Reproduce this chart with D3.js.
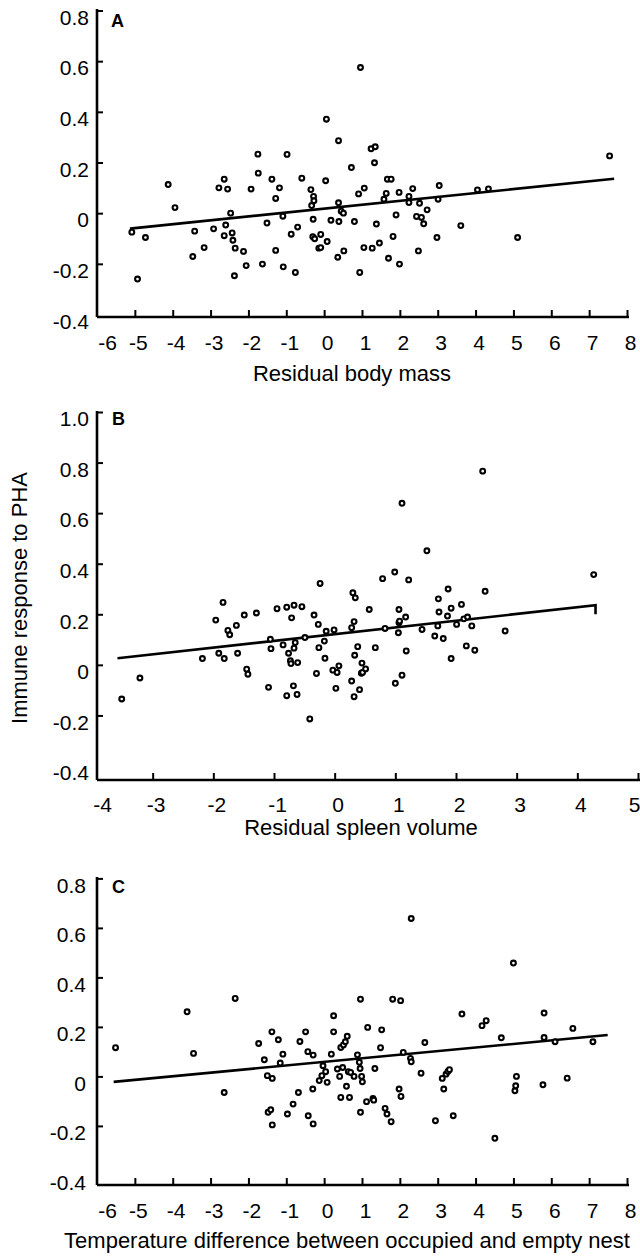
<!DOCTYPE html>
<html>
<head>
<meta charset="utf-8">
<script src="https://cdn.jsdelivr.net/npm/d3@7"></script>
<style>
  html, body { margin: 0; padding: 0; background: #fff; }
  svg { display: block; }
  text { font-family: "Liberation Sans", Arial, Helvetica, sans-serif; fill: #000; }
</style>
</head>
<body>
<svg id="chart" width="640" height="1260"></svg>
<script>
// ---------------- DATA ----------------
// Panel A: residual body mass vs immune response
const aX = [-5.08,-4.93,-4.72,-4.12,-3.94,-3.47,-3.42,-3.17,-2.92,-2.78,-2.64,-2.64,-2.60,-2.55,-2.47,-2.43,-2.41,-2.35,-2.37,-2.13,
  -2.06,-1.93,-1.75,-1.74,-1.63,-1.51,-1.38,-1.28,-1.28,-1.18,-1.09,-1.08,-0.98,-0.87,-0.76,-0.70,-0.59,-0.35,-0.33,-0.28,
  -0.27,-0.29,-0.30,-0.25,-0.14,-0.09,-0.09,0.04,0.08,0.06,0.18,0.36,0.38,0.39,0.38,0.45,0.51,0.52,0.72,0.80,
  0.91,0.94,0.96,1.06,1.05,1.24,1.35,1.33,1.27,1.38,1.46,1.58,1.64,1.67,1.77,1.70,1.82,1.90,1.98,1.99,
  2.24,2.24,2.34,2.44,2.49,2.52,2.57,2.63,2.72,2.98,3.01,3.04,3.61,4.05,4.34,5.11,7.54];
const aY = [-0.075,-0.26,-0.096,0.113,0.022,-0.171,-0.071,-0.136,-0.062,0.100,0.134,-0.089,-0.047,0.095,0.000,-0.078,-0.107,-0.138,-0.247,-0.151,
  -0.207,0.095,0.233,0.158,-0.201,-0.039,0.134,0.058,-0.147,0.100,-0.012,-0.212,0.232,-0.083,-0.234,-0.055,0.138,0.093,0.030,0.066,
  0.049,-0.024,-0.093,-0.101,-0.138,-0.136,-0.084,0.128,-0.112,0.371,-0.028,-0.174,0.041,-0.033,0.286,0.008,0.000,-0.149,0.180,-0.033,
  0.076,-0.234,0.575,0.099,-0.136,0.254,0.262,0.199,-0.138,-0.043,-0.118,0.055,0.078,0.134,0.134,-0.178,-0.092,-0.007,0.082,-0.201,
  0.066,0.042,0.097,-0.013,-0.149,0.039,-0.017,-0.042,0.013,-0.096,0.055,0.109,-0.049,0.092,0.096,-0.096,0.226];
const lineA = [[-5.13,-0.061],[7.66,0.136]];

// Panel B: residual spleen volume vs immune response
const bX = [-3.51,-3.21,-2.18,-1.96,-1.91,-1.82,-1.84,-1.76,-1.73,-1.62,-1.60,-1.49,-1.45,-1.43,-1.29,-1.09,-1.06,-1.05,-0.95,-0.85,
  -0.79,-0.79,-0.76,-0.73,-0.72,-0.71,-0.67,-0.68,-0.67,-0.65,-0.61,-0.62,-0.54,-0.49,-0.41,-0.34,-0.30,-0.27,-0.26,-0.24,
  -0.17,-0.16,-0.14,-0.03,-0.01,0.02,0.04,0.07,0.28,0.28,0.30,0.32,0.32,0.33,0.34,0.38,0.41,0.44,0.45,0.46,
  0.51,0.57,0.67,0.79,0.83,0.99,1.00,1.05,1.06,1.06,1.07,1.11,1.11,1.17,1.18,1.22,1.44,1.52,1.65,1.70,
  1.71,1.72,1.79,1.86,1.87,1.92,1.92,2.01,2.09,2.13,2.19,2.17,2.26,2.31,2.44,2.48,2.81,4.27];
const bY = [-0.135,-0.052,0.025,0.177,0.046,0.025,0.247,0.136,0.119,0.156,0.046,0.197,-0.017,-0.037,0.205,-0.089,0.101,0.064,0.222,0.079,
  0.228,-0.122,0.046,0.016,0.005,0.186,0.236,-0.083,0.066,0.088,0.009,-0.117,0.230,0.108,-0.214,0.197,-0.034,0.160,0.068,0.322,
  0.094,0.026,0.133,-0.021,0.138,-0.093,-0.030,-0.004,-0.064,0.147,0.285,0.171,-0.126,0.038,0.265,0.072,-0.098,-0.033,0.007,-0.030,
  -0.016,0.219,0.068,0.341,0.144,0.367,-0.073,0.127,0.219,0.167,0.173,-0.041,0.639,0.189,0.055,0.336,0.140,0.451,0.114,0.154,
  0.261,0.209,0.104,0.193,0.300,0.224,0.025,0.160,0.239,0.182,0.189,0.075,0.154,0.058,0.766,0.291,0.134,0.357];
const lineB = [[-3.58,0.026],[4.30,0.236],[4.30,0.200]];

// Panel C: temperature difference vs immune response
const cX = [-5.51,-3.62,-3.45,-2.64,-2.35,-1.73,-1.58,-1.50,-1.48,-1.41,-1.38,-1.37,-1.37,-1.21,-1.16,-1.09,-0.97,-0.82,-0.68,-0.64,
  -0.49,-0.43,-0.42,-0.29,-0.30,-0.29,-0.13,-0.06,-0.03,0.04,0.08,0.19,0.25,0.25,0.35,0.41,0.44,0.44,0.49,0.51,
  0.56,0.59,0.61,0.64,0.67,0.70,0.79,0.88,0.93,0.95,0.96,0.96,0.99,1.01,1.12,1.15,1.29,1.31,1.34,1.49,
  1.52,1.61,1.66,1.77,1.81,1.98,2.02,2.03,2.09,2.28,2.30,2.30,2.56,2.66,2.94,3.12,3.16,3.22,3.27,3.31,
  3.41,3.64,4.17,4.28,4.51,4.68,5.00,5.04,5.06,5.08,5.78,5.81,5.81,6.10,6.42,6.57,7.10];
const cY = [0.116,0.261,0.093,-0.065,0.315,0.133,0.067,0.003,-0.145,-0.135,0.180,-0.008,-0.196,0.148,0.054,0.090,-0.152,-0.112,-0.065,0.141,
  0.180,0.100,-0.159,0.086,-0.051,-0.192,-0.017,0.003,0.043,0.019,-0.024,0.090,0.245,0.180,0.030,0.000,0.117,-0.085,0.036,0.127,
  0.140,-0.040,0.162,0.019,-0.085,0.016,0.000,0.087,0.057,0.032,0.312,-0.145,0.000,-0.022,-0.102,0.198,-0.089,-0.096,0.032,0.116,
  0.188,-0.129,-0.152,-0.183,0.312,-0.051,0.306,-0.081,0.097,0.073,0.059,0.638,0.013,0.137,-0.179,-0.008,-0.051,0.009,0.020,0.027,
  -0.159,0.252,0.205,0.225,-0.250,0.156,0.458,-0.058,-0.038,0.000,-0.034,0.256,0.157,0.140,-0.007,0.194,0.140];
const lineC = [[-5.56,-0.022],[7.49,0.167]];

// Axis ticks / labels
const xTicksA = [-6,-5,-4,-3,-2,-1,0,1,2,3,4,5,6,7,8];
const xTicksB = [-4,-3,-2,-1,0,1,2,3,4,5];
const xTicksC = [-6,-5,-4,-3,-2,-1,0,1,2,3,4,5,6,7,8];
const yTicksA = [0.8,0.6,0.4,0.2,0,-0.2,-0.4];
const yTicksB = [1.0,0.8,0.6,0.4,0.2,0,-0.2,-0.4];
const yTicksC = [0.8,0.6,0.4,0.2,0,-0.2,-0.4];
const panelLetters = ["A","B","C"];
const xTitles = ["Residual body mass","Residual spleen volume","Temperature difference between occupied and empty nest"];
const yTitle = "Immune response to PHA";

// ---------------- LAYOUT ----------------
const svg = d3.select("#chart");
svg.append("rect").attr("width",640).attr("height",1260).attr("fill","#fff");

const panels = [
  { xs: aX, ys: aY, line: lineA, xTicks: xTicksA, yTicks: yTicksA,
    x: d3.scaleLinear().domain([-6,8]).range([97,627]),
    y: d3.scaleLinear().domain([-0.4,0.8]).range([314.5,10.5]),
    axisX: 97, axisY: 317, axisTop: 9, xEnd: 629, yLabPad: 8, xLabPad: 18,
    letter: [111,27], title: [352,381] },
  { xs: bX, ys: bY, line: lineB, xTicks: xTicksB, yTicks: yTicksB,
    x: d3.scaleLinear().domain([-4,5]).range([92,638]),
    y: d3.scaleLinear().domain([-0.4,1.0]).range([766,412]),
    axisX: 97, axisY: 780, axisTop: 411, xEnd: 640, yLabPad: 8, xLabPad: 17,
    letter: [112,425], title: [361,835] },
  { xs: cX, ys: cY, line: lineC, xTicks: xTicksC, yTicks: yTicksC,
    x: d3.scaleLinear().domain([-6,8]).range([97,627]),
    y: d3.scaleLinear().domain([-0.4,0.8]).range([1175.4,878.4]),
    axisX: 97, axisY: 1185, axisTop: 877, xEnd: 629, yLabPad: 11, xLabPad: 18,
    letter: [112,893], title: [347,1248] }
];

const fmtY = d => d === 0 ? "0" : d.toFixed(1);

panels.forEach((p, i) => {
  const g = svg.append("g");
  const nX = p.xTicks.length;

  // y axis ticks + labels
  const ya = g.append("g").attr("transform", `translate(${p.axisX},0)`)
    .call(d3.axisLeft(p.y).tickValues(p.yTicks).tickFormat(fmtY).tickSize(-6).tickPadding(p.yLabPad));
  ya.select(".domain").remove();
  ya.selectAll(".tick line").attr("stroke","#000").attr("stroke-width",2)
    .attr("display", d => d === -0.4 ? "none" : null);
  ya.selectAll(".tick text").attr("y", 7).attr("font-size", 21)
    .style("font-family", "'Liberation Sans', Arial, sans-serif");

  // x axis ticks + labels
  const xa = g.append("g").attr("transform", `translate(0,${p.axisY})`)
    .call(d3.axisBottom(p.x).tickValues(p.xTicks).tickFormat(d => String(d)).tickSize(-7).tickPadding(p.xLabPad));
  xa.select(".domain").remove();
  xa.selectAll(".tick line").attr("stroke","#000").attr("stroke-width",2)
    .attr("display", (d, j) => j === 0 ? "none" : null);
  xa.selectAll(".tick text")
    .attr("dx", (d, j) => j === 0 ? 10 : (j === nX - 1 && p.xEnd >= 640 ? -4 : 3))
    .attr("font-size", 21)
    .style("font-family", "'Liberation Sans', Arial, sans-serif");

  // axis lines
  g.append("line").attr("x1", p.axisX).attr("x2", p.axisX).attr("y1", p.axisTop).attr("y2", p.axisY)
    .attr("stroke","#000").attr("stroke-width",2.6);
  g.append("line").attr("x1", p.axisX).attr("x2", p.xEnd).attr("y1", p.axisY).attr("y2", p.axisY)
    .attr("stroke","#000").attr("stroke-width",2.6);

  // regression line
  const lg = d3.line().x(d => p.x(d[0])).y(d => p.y(d[1]));
  g.append("path").attr("d", lg(p.line)).attr("fill","none").attr("stroke","#000").attr("stroke-width",2.6);

  // points
  g.append("g").selectAll("circle").data(p.xs.map((v, j) => [v, p.ys[j]])).join("circle")
    .attr("cx", d => p.x(d[0])).attr("cy", d => p.y(d[1])).attr("r", 2.4)
    .attr("fill","#fff").attr("stroke","#000").attr("stroke-width",2.1);

  // panel letter
  g.append("text").attr("x", p.letter[0]).attr("y", p.letter[1]).attr("font-size", 18)
    .attr("font-weight","bold").text(panelLetters[i]);

  // x title
  g.append("text").attr("x", p.title[0]).attr("y", p.title[1]).attr("text-anchor","middle")
    .attr("font-size", 22).text(xTitles[i]);
});

// y title
svg.append("text").attr("transform","translate(27,598) rotate(-90)").attr("text-anchor","middle")
  .attr("font-size", 22).text(yTitle);
</script>
</body>
</html>
